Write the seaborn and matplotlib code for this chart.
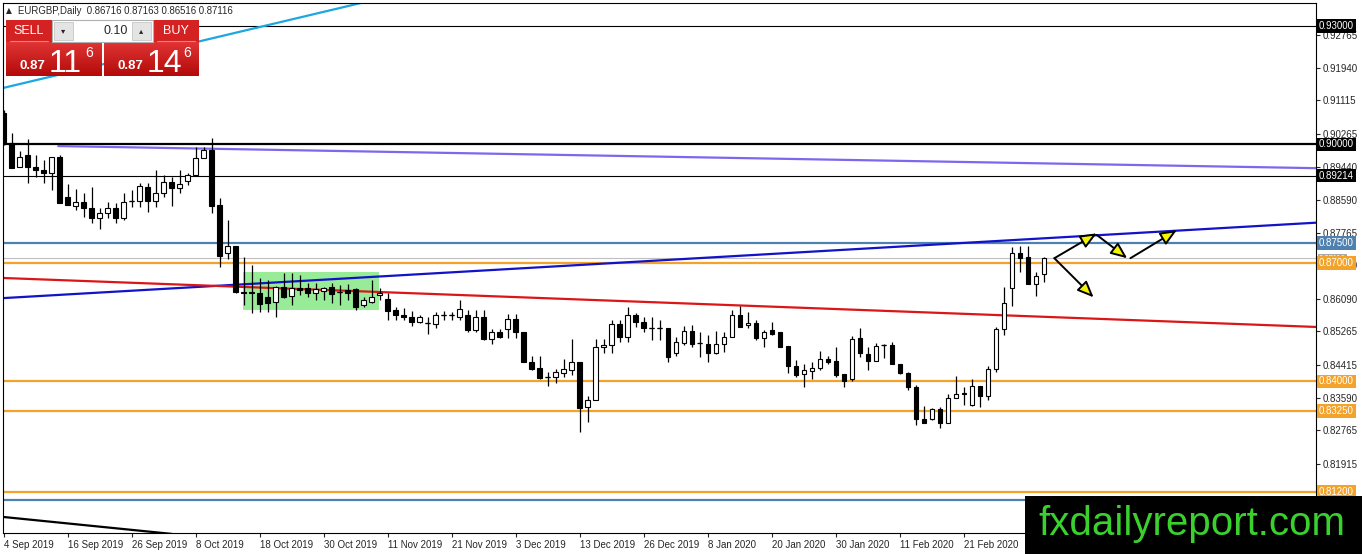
import numpy as np
import pandas as pd
import seaborn as sns
import matplotlib.pyplot as plt
from matplotlib.patches import Rectangle
from matplotlib.colors import LinearSegmentedColormap
import matplotlib.transforms as mtransforms

# ---- data ----
symbol = "EURGBP,Daily"
holidays = ["2019-12-25", "2020-01-01"]
dates = pd.bdate_range("2019-09-04", "2020-03-06").drop(pd.to_datetime(holidays))

opens = [
    0.9080, 0.9004, 0.8944, 0.8974, 0.8944, 0.8936, 0.8928, 0.8969, 0.8868, 0.8845,
    0.8855, 0.8840, 0.8814, 0.8827, 0.8840, 0.8814, 0.8857, 0.8857, 0.8893, 0.8857,
    0.8878, 0.8906, 0.8890, 0.8908, 0.8923, 0.8966, 0.8987, 0.8847, 0.8726, 0.8744,
    0.8627, 0.8627, 0.8625, 0.8615, 0.8602, 0.8640, 0.8617, 0.8637, 0.8637, 0.8625,
    0.8630, 0.8640, 0.8627, 0.8632, 0.8635, 0.8594, 0.8602, 0.8620, 0.8610, 0.8582,
    0.8569, 0.8564, 0.8551, 0.8549, 0.8546, 0.8569, 0.8567, 0.8562, 0.8569, 0.8531,
    0.8564, 0.8508, 0.8524, 0.8534, 0.8559, 0.8526, 0.8450, 0.8435, 0.8412, 0.8412,
    0.8422, 0.8430, 0.8450, 0.8336, 0.8354, 0.8488, 0.8493, 0.8546, 0.8513, 0.8569,
    0.8551, 0.8536, 0.8536, 0.8536, 0.8473, 0.8498, 0.8529, 0.8498, 0.8496, 0.8473,
    0.8496, 0.8513, 0.8569, 0.8544, 0.8549, 0.8511, 0.8531, 0.8526, 0.8491, 0.8440,
    0.8420, 0.8427, 0.8435, 0.8458, 0.8453, 0.8420, 0.8407, 0.8511, 0.8470, 0.8453,
    0.8493, 0.8493, 0.8445, 0.8422, 0.8387, 0.8306, 0.8306, 0.8329, 0.8296, 0.8357,
    0.8367, 0.8341, 0.8389, 0.8362, 0.8432, 0.8534, 0.8637, 0.8726, 0.8716, 0.8648,
    0.86716,
]
highs = [
    0.9088, 0.9030, 0.8984, 0.9014, 0.8974, 0.8961, 0.8969, 0.8974, 0.8900, 0.8888,
    0.8878, 0.8893, 0.8840, 0.8855, 0.8852, 0.8878, 0.8885, 0.8903, 0.8903, 0.8936,
    0.8923, 0.8918, 0.8936, 0.8928, 0.8994, 0.8994, 0.9017, 0.8865, 0.8809, 0.8744,
    0.8716, 0.8696, 0.8663, 0.8658, 0.8642, 0.8675, 0.8675, 0.8670, 0.8650, 0.8650,
    0.8640, 0.8650, 0.8645, 0.8648, 0.8637, 0.8615, 0.8658, 0.8637, 0.8625, 0.8589,
    0.8587, 0.8579, 0.8569, 0.8562, 0.8577, 0.8579, 0.8577, 0.8605, 0.8582, 0.8582,
    0.8582, 0.8534, 0.8534, 0.8572, 0.8572, 0.8526, 0.8465, 0.8465, 0.8425, 0.8432,
    0.8458, 0.8508, 0.8450, 0.8364, 0.8508, 0.8508, 0.8556, 0.8556, 0.8589, 0.8574,
    0.8564, 0.8564, 0.8556, 0.8536, 0.8513, 0.8541, 0.8544, 0.8526, 0.8518, 0.8529,
    0.8526, 0.8582, 0.8592, 0.8577, 0.8556, 0.8531, 0.8551, 0.8526, 0.8491, 0.8455,
    0.8443, 0.8448, 0.8478, 0.8465, 0.8486, 0.8420, 0.8516, 0.8536, 0.8488, 0.8498,
    0.8496, 0.8501, 0.8445, 0.8425, 0.8392, 0.8339, 0.8334, 0.8336, 0.8367, 0.8415,
    0.8387, 0.8405, 0.8389, 0.8440, 0.8539, 0.8640, 0.8741, 0.8744, 0.8744, 0.8678,
    0.87163,
]
lows = [
    0.8999, 0.8941, 0.8944, 0.8903, 0.8918, 0.8903, 0.8885, 0.8852, 0.8847, 0.8835,
    0.8817, 0.8802, 0.8787, 0.8814, 0.8802, 0.8809, 0.8842, 0.8842, 0.8830, 0.8842,
    0.8868, 0.8845, 0.8878, 0.8898, 0.8921, 0.8966, 0.8827, 0.8690, 0.8711, 0.8625,
    0.8594, 0.8574, 0.8577, 0.8577, 0.8564, 0.8612, 0.8594, 0.8620, 0.8615, 0.8605,
    0.8607, 0.8599, 0.8594, 0.8607, 0.8582, 0.8589, 0.8599, 0.8607, 0.8556, 0.8556,
    0.8556, 0.8541, 0.8549, 0.8521, 0.8536, 0.8556, 0.8556, 0.8556, 0.8526, 0.8526,
    0.8506, 0.8496, 0.8511, 0.8511, 0.8511, 0.8448, 0.8430, 0.8407, 0.8389, 0.8397,
    0.8412, 0.8417, 0.8273, 0.8298, 0.8354, 0.8473, 0.8473, 0.8501, 0.8501, 0.8539,
    0.8526, 0.8506, 0.8506, 0.8450, 0.8465, 0.8493, 0.8488, 0.8463, 0.8450, 0.8470,
    0.8475, 0.8513, 0.8539, 0.8536, 0.8506, 0.8486, 0.8518, 0.8488, 0.8422, 0.8412,
    0.8387, 0.8405, 0.8430, 0.8445, 0.8412, 0.8387, 0.8402, 0.8463, 0.8430, 0.8453,
    0.8460, 0.8443, 0.8420, 0.8379, 0.8291, 0.8296, 0.8303, 0.8283, 0.8296, 0.8357,
    0.8341, 0.8339, 0.8336, 0.8352, 0.8425, 0.8518, 0.8592, 0.8678, 0.8648, 0.8617,
    0.86516,
]
closes = [
    0.9004, 0.8941, 0.8969, 0.8944, 0.8936, 0.8928, 0.8969, 0.8852, 0.8847, 0.8855,
    0.8840, 0.8814, 0.8827, 0.8840, 0.8814, 0.8855, 0.8857, 0.8895, 0.8857, 0.8878,
    0.8906, 0.8890, 0.8900, 0.8923, 0.8966, 0.8987, 0.8845, 0.8718, 0.8744, 0.8627,
    0.8625, 0.8625, 0.8597, 0.8599, 0.8640, 0.8615, 0.8637, 0.8632, 0.8625, 0.8635,
    0.8637, 0.8622, 0.8627, 0.8625, 0.8589, 0.8607, 0.8615, 0.8625, 0.8579, 0.8567,
    0.8562, 0.8551, 0.8562, 0.8549, 0.8567, 0.8569, 0.8567, 0.8584, 0.8531, 0.8564,
    0.8508, 0.8524, 0.8513, 0.8559, 0.8524, 0.8448, 0.8432, 0.8410, 0.8412, 0.8425,
    0.8432, 0.8448, 0.8334, 0.8354, 0.8488, 0.8493, 0.8546, 0.8513, 0.8569, 0.8551,
    0.8536, 0.8536, 0.8536, 0.8463, 0.8501, 0.8529, 0.8496, 0.8498, 0.8473, 0.8496,
    0.8513, 0.8569, 0.8539, 0.8549, 0.8511, 0.8524, 0.8521, 0.8488, 0.8438, 0.8417,
    0.8430, 0.8435, 0.8458, 0.8450, 0.8417, 0.8402, 0.8508, 0.8473, 0.8453, 0.8491,
    0.8493, 0.8443, 0.8422, 0.8387, 0.8306, 0.8296, 0.8329, 0.8296, 0.8357, 0.8367,
    0.8372, 0.8389, 0.8362, 0.8432, 0.8534, 0.8599, 0.8726, 0.8713, 0.8648, 0.8668,
    0.87116,
]

tick_labels = ["4 Sep 2019", "16 Sep 2019", "26 Sep 2019", "8 Oct 2019", "18 Oct 2019",
               "30 Oct 2019", "11 Nov 2019", "21 Nov 2019", "3 Dec 2019", "13 Dec 2019",
               "26 Dec 2019", "8 Jan 2020", "20 Jan 2020", "30 Jan 2020", "11 Feb 2020",
               "21 Feb 2020"]
price_ticks = [0.92765, 0.91940, 0.91115, 0.90265, 0.89440, 0.88590, 0.87765, 0.86940,
               0.86090, 0.85265, 0.84415, 0.83590, 0.82765, 0.81915]

levels_black = [0.93000, 0.90000, 0.89214]
levels_orange = [0.87000, 0.84000, 0.83250, 0.81200]
levels_steel = [0.87500, 0.81000]
bid_price = 0.87116

# trend lines (bar index, price)
cyan_x, cyan_y = [-0.1, 45.0], [0.9143, 0.9360]
diag_x, diag_y = [-0.1, 21.0], [0.8057, 0.8014]
purple_x, purple_y = [6.8, 164.0], [0.8996, 0.8940]
blue_x, blue_y = [-0.1, 164.0], [0.8611, 0.8802]
red_x, red_y = [-0.1, 164.0], [0.8662, 0.8538]
zone_x, zone_y = [29.9, 46.9], [0.8580, 0.8677]
arrow_from = [(131.3, 0.8712), (131.3, 0.8712), (136.6, 0.8771), (140.8, 0.8712)]
arrow_to = [(136.6, 0.8775), (136.2, 0.8613), (140.4, 0.8712), (146.6, 0.8783)]

lot_size = "0.10"
sell_quote = ("0.87", "11", "6")
buy_quote = ("0.87", "14", "6")
watermark = "fxdailyreport.com"

# ---- figure ----
W, H = 1362, 554
sns.set_style("white")
plt.rcParams['font.family'] = ['Liberation Sans', 'DejaVu Sans']

fig = plt.figure(figsize=(W / 100, H / 100), dpi=100)
ax = fig.add_axes([3 / W, 21 / H, 1313 / W, 530 / H])
ax.set_facecolor("white")

# support / resistance levels
for p in levels_black:
    ax.axhline(p, color="black", lw=1.6 if p == 0.90 else 0.8, zorder=2)
for p in levels_orange:
    ax.axhline(p, color="#f3a32a", lw=1.6, zorder=2)
for p in levels_steel:
    ax.axhline(p, color="#4f81b0", lw=1.6, zorder=2)
ax.axhline(bid_price, color="#c0c0c0", lw=0.8, zorder=2)

# consolidation zone
ax.add_patch(Rectangle((zone_x[0], zone_y[0]), zone_x[1] - zone_x[0], zone_y[1] - zone_y[0],
                       fc="#98ec98", ec="none", zorder=1))

# trend lines
sns.lineplot(x=purple_x, y=purple_y, ax=ax, color="#7b68ee", lw=1.6, zorder=2)
sns.lineplot(x=blue_x, y=blue_y, ax=ax, color="#1212c8", lw=1.6, zorder=2)
sns.lineplot(x=red_x, y=red_y, ax=ax, color="#dc1616", lw=1.6, zorder=2)
sns.lineplot(x=cyan_x, y=cyan_y, ax=ax, color="#1ca6e2", lw=1.6, zorder=2)
sns.lineplot(x=diag_x, y=diag_y, ax=ax, color="black", lw=1.6, zorder=2)

# candles
x = np.arange(len(dates))
o, h, l, c = map(np.asarray, (opens, highs, lows, closes))
ax.vlines(x, l, h, color="black", lw=0.9, zorder=3)
body = np.abs(c - o)
ax.bar(x, body, bottom=np.minimum(o, c), width=0.6,
       color=np.where(c >= o, "white", "black"), edgecolor="black", lw=0.8, zorder=4)
doji = body < 1e-6
ax.hlines(c[doji], x[doji] - 0.32, x[doji] + 0.32, color="black", lw=0.9, zorder=4)

# scenario arrows
for a, b in zip(arrow_from, arrow_to):
    ax.annotate("", xy=b, xytext=a, zorder=6,
                arrowprops=dict(arrowstyle="-|>,head_length=0.9,head_width=0.38",
                                fc="#f4f400", ec="black", lw=1.4,
                                mutation_scale=11, shrinkA=0, shrinkB=0))

ax.set_xlim(-0.1, 164.0)
ax.set_ylim(0.80163, 0.93582)

# axes decoration
tick_pos = [dates.get_loc(pd.to_datetime(t)) for t in tick_labels]
ax.set_xticks(tick_pos)
ax.set_xticklabels(tick_labels, ha="left")
ax.yaxis.tick_right()
ax.set_yticks(price_ticks)
ax.set_yticklabels([f"{p:.5f}" for p in price_ticks])
ax.tick_params(axis="x", labelsize=7, length=3, width=0.8, pad=2, direction="out")
ax.tick_params(axis="y", labelsize=7, length=3, width=0.8, pad=2, direction="out")
ax.tick_params(bottom=True, right=True, left=False)
for s in ax.spines.values():
    s.set_color("black")
    s.set_linewidth(0.8)
ax.grid(False)

# price tags on right scale (the bid tag sits just above the 0.87000 tag)
tr = mtransforms.blended_transform_factory(ax.transAxes, ax.transData)
tags = ([(p, "black") for p in levels_black] + [(levels_steel[0], "#4f81b0"),
        (bid_price, "#a8a8a8")] + [(p, "#f3a32a") for p in levels_orange])
for p, col in tags:
    ax.text(1.0 + 3 / 1313, p, f"{p:.5f}", transform=tr, ha="left", va="center",
            fontsize=7 if p != bid_price else 5.5, color="white", zorder=8, clip_on=False,
            bbox=dict(boxstyle="square,pad=0.18", fc=col, ec="none"))

# ---- overlay in pixel coordinates: header, trade panel, watermark ----
ov = fig.add_axes([0, 0, 1, 1], zorder=5)
ov.patch.set_alpha(0)
ov.axis("off")

ov.text(9, 11, "\u25b2", fontsize=5.5, ha="center", va="center", family=["DejaVu Sans"])
ov.text(18, 11, f"{symbol}  {opens[-1]:.5f} {highs[-1]:.5f} {lows[-1]:.5f} {closes[-1]:.5f}",
        fontsize=6.9, ha="left", va="center")

red_grad = LinearSegmentedColormap.from_list("rg", ["#e03434", "#b40a0a"])
grad = np.linspace(0, 1, 32).reshape(-1, 1)
for x0, x1 in [(6, 102), (104, 199)]:
    ov.imshow(grad, extent=(x0, x1, 76, 42), cmap=red_grad, aspect="auto", zorder=1)
for x0, x1, lab in [(6, 52, "SELL"), (153, 199, "BUY")]:
    ov.add_patch(Rectangle((x0, 20), x1 - x0, 22, fc="#d42121", ec="none", zorder=1))
    ov.plot([x0 + 4, x1 - 4], [41, 41], color="#f08080", lw=0.8, zorder=2)
    ov.text((x0 + x1) / 2, 31, lab, color="white", fontsize=9, ha="center", va="center", zorder=3)
ov.add_patch(Rectangle((52, 20), 101, 22, fc="white", ec="#b0b0b0", lw=0.8, zorder=1))
for x0, glyph in [(54, "\u25be"), (132, "\u25b4")]:
    ov.add_patch(Rectangle((x0, 22), 19, 18, fc="#e4e4e4", ec="#c8c8c8", lw=0.6, zorder=2))
    ov.text(x0 + 9.5, 31, glyph, fontsize=6, ha="center", va="center", family=["DejaVu Sans"], zorder=3)
ov.text(128, 31, lot_size, fontsize=9, ha="right", va="center", zorder=3)

for x0, (big_fig, pips, frac) in [(6, sell_quote), (104, buy_quote)]:
    ov.text(x0 + 14, 69, big_fig, color="white", fontsize=9.5, weight="bold", ha="left",
            va="baseline", zorder=3)
    ov.text(x0 + 43, 72, pips, color="white", fontsize=23, ha="left", va="baseline", zorder=3)
    ov.text(x0 + 79, 57, frac, color="white", fontsize=10, ha="left", va="baseline", zorder=3)

ov.add_patch(Rectangle((1025, 496), W - 1025, H - 496, fc="black", ec="none", zorder=4))
ov.text(1192, 535, watermark, color="#3ad12f", fontsize=29, ha="center", va="baseline", zorder=5)

ov.set_xlim(0, W)
ov.set_ylim(H, 0)

fig.savefig("out.png", dpi=100)
